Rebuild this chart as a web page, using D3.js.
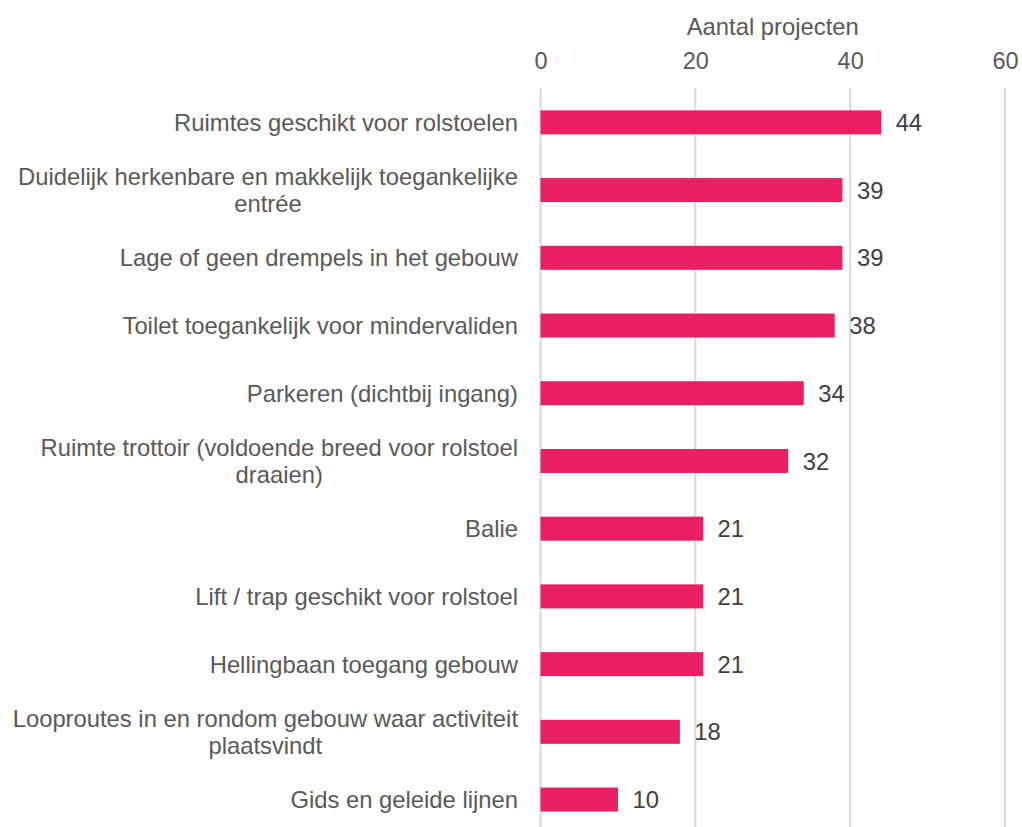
<!DOCTYPE html>
<html>
<head>
<meta charset="utf-8">
<script src="https://cdn.jsdelivr.net/npm/d3@7"></script>
<style>
  html, body { margin: 0; padding: 0; background: #ffffff; }
  svg { display: block; font-family: "Liberation Sans", Arial, sans-serif; }
</style>
</head>
<body>
<svg id="chart" width="1022" height="827"></svg>
<script>
const categories = [
  "Ruimtes geschikt voor rolstoelen",
  "Duidelijk herkenbare en makkelijk toegankelijke\nentrée",
  "Lage of geen drempels in het gebouw",
  "Toilet toegankelijk voor mindervaliden",
  "Parkeren (dichtbij ingang)",
  "Ruimte trottoir (voldoende breed voor rolstoel\ndraaien)",
  "Balie",
  "Lift / trap geschikt voor rolstoel",
  "Hellingbaan toegang gebouw",
  "Looproutes in en rondom gebouw waar activiteit\nplaatsvindt",
  "Gids en geleide lijnen"
];
const values = [44, 39, 39, 38, 34, 32, 21, 21, 21, 18, 10];
const tickValues = [0, 20, 40, 60];
const axisTitle = "Aantal projecten";

const svg = d3.select("#chart");

const x = d3.scaleLinear().domain([0, 60]).range([540.5, 1005]);
const y = d3.scaleBand()
  .domain(categories)
  .range([88.5, 88.5 + 11 * 67.72])
  .paddingInner(0.6456)
  .paddingOuter(0.3228);

// gridlines
svg.append("g").selectAll("line")
  .data(tickValues)
  .join("line")
  .attr("x1", d => x(d)).attr("x2", d => x(d))
  .attr("y1", 88.5).attr("y2", 827)
  .attr("stroke", "#d9d9d9")
  .attr("stroke-width", 2);

// top axis tick labels
const axis = d3.axisTop(x).tickValues(tickValues).tickSize(0).tickPadding(0).tickFormat(d3.format("d"));
const ax = svg.append("g").attr("transform", "translate(0,69)").call(axis);
ax.select(".domain").remove();
ax.selectAll("text")
  .attr("font-size", 23.5)
  .attr("fill", "#595959")
  .attr("font-family", "Liberation Sans, Arial, sans-serif")
  .attr("dy", 0);

// axis title
svg.append("text")
  .attr("x", (x(0) + x(60)) / 2)
  .attr("y", 35)
  .attr("text-anchor", "middle")
  .attr("font-size", 23.8)
  .attr("fill", "#595959")
  .text(axisTitle);

// bars
svg.append("g").selectAll("rect")
  .data(values)
  .join("rect")
  .attr("x", x(0))
  .attr("y", (d, i) => y(categories[i]))
  .attr("width", d => x(d) - x(0))
  .attr("height", y.bandwidth())
  .attr("fill", "#E91E63");

// value labels
svg.append("g").selectAll("text")
  .data(values)
  .join("text")
  .attr("x", d => x(d) + 14.5)
  .attr("y", (d, i) => y(categories[i]) + y.bandwidth() / 2 + 8.6)
  .attr("font-size", 23.8)
  .attr("fill", "#404040")
  .text(d => d);

// category labels
const labelRight = 518;
const lineH = 26.5;
const lg = svg.append("g");
categories.forEach((c, i) => {
  const lines = c.split("\n");
  const cy = y(c) + y.bandwidth() / 2;
  const t = lg.append("text")
    .attr("font-size", 23.8)
    .attr("fill", "#595959");
  const base = cy + 8.6 - (lines.length - 1) * lineH / 2;
  const spans = lines.map((l, j) => t.append("tspan").attr("y", base + j * lineH).text(l));
  if (lines.length === 1) {
    t.attr("text-anchor", "end");
    spans[0].attr("x", labelRight);
  } else {
    const widths = spans.map(s => s.node().getComputedTextLength());
    const maxW = Math.max(...widths);
    t.attr("text-anchor", "middle");
    spans.forEach(s => s.attr("x", labelRight - maxW / 2));
  }
});
</script>
</body>
</html>
